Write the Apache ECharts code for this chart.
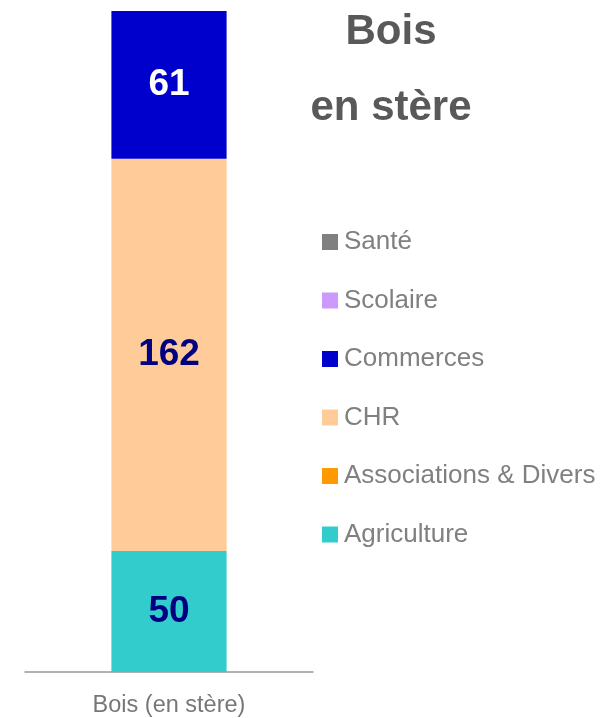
<!DOCTYPE html>
<html>
<head>
<meta charset="utf-8">
<script src="https://cdn.jsdelivr.net/npm/echarts@6/dist/echarts.min.js"></script>
<style>
  html, body { margin: 0; padding: 0; background: #fff; }
  #chart { width: 603px; height: 718px; }
</style>
</head>
<body>
<div id="chart"></div>
<script>
const categories = ['Bois (en stère)']
// stack order, bottom to top
const seriesNames = ['Agriculture', 'Associations & Divers', 'CHR', 'Commerces', 'Scolaire', 'Santé']
const seriesValues = [50, 0, 162, 61, 0, 0]
const seriesColors = ['#33CCCC', '#FF9900', '#FFCC99', '#0000CC', '#CC99FF', '#808080']
const labelColors = ['#000080', '#000080', '#000080', '#ffffff', '#000080', '#000080']

const FONT = 'Arial'
const chart = echarts.init(document.getElementById('chart'))

const series = seriesNames.map((name, i) => ({
  name: name,
  type: 'bar',
  stack: 'total',
  barWidth: '40%',
  data: [seriesValues[i]],
  itemStyle: { color: seriesColors[i] },
  label: {
    show: seriesValues[i] > 0,
    position: 'inside',
    color: labelColors[i],
    fontFamily: FONT,
    fontWeight: 'bold',
    fontSize: 37
  }
}))

chart.setOption({
  animation: false,
  title: {
    text: 'Bois\n\nen stère',
    left: 386,
    top: 8,
    textAlign: 'center',
    textStyle: {
      fontFamily: FONT,
      fontWeight: 'bold',
      fontSize: 42,
      color: '#595959',
      lineHeight: 38
    }
  },
  legend: {
    orient: 'vertical',
    left: 322,
    top: 229,
    padding: 0,
    data: seriesNames.slice().reverse(),
    icon: 'rect',
    itemWidth: 16,
    itemHeight: 16,
    itemGap: 32.5,
    textStyle: {
      fontFamily: FONT,
      fontSize: 26,
      lineHeight: 26,
      color: '#808080',
      padding: [0, 0, 0, 1]
    }
  },
  grid: {
    left: 25,
    right: 290,
    top: 11,
    bottom: 45
  },
  xAxis: {
    type: 'category',
    data: categories,
    axisLine: { lineStyle: { color: '#999999', width: 1.5 } },
    axisTick: { show: false },
    axisLabel: {
      color: '#777777',
      fontFamily: FONT,
      fontSize: 23.5,
      margin: 22
    }
  },
  yAxis: {
    type: 'value',
    min: 0,
    max: 273,
    show: false
  },
  series: series
})
</script>
</body>
</html>
